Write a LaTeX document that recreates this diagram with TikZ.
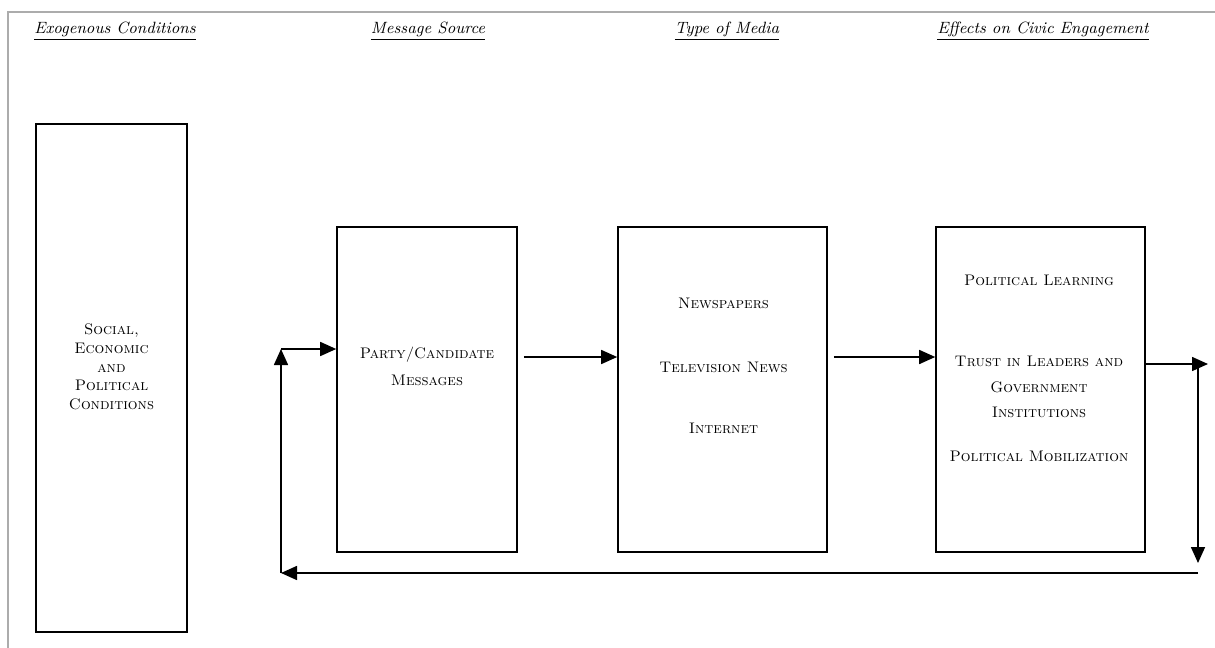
\documentclass[tikz,border=0pt]{standalone}
\usepackage{fontspec}
\usetikzlibrary{arrows.meta,calc}
\tikzset{
  box/.style={draw, line width=0.9pt, inner sep=0pt},
  lbl/.style={align=center, font=\fontsize{8.7}{10.4}\selectfont\scshape},
  head/.style={font=\fontsize{9.3}{11}\selectfont\itshape}
}
\begin{document}
\begin{tikzpicture}[line join=miter, >={Triangle[length=3.2mm,width=2.8mm]}]
            \useasboundingbox (0,0) rectangle (24.3,-12.96);
            \draw[gray!65, line width=1.3pt] (0.16,-12.96) -- (0.16,-0.24) -- (24.3,-0.24);
            \node[head] (h1) at (2.30,-0.62) {\underline{Exogenous Conditions}};
            \node[head] (h2) at (8.56,-0.62) {\underline{Message Source}};
            \node[head] (h3) at (14.54,-0.62) {\underline{Type of Media}};
            \node[head] (h4) at (20.86,-0.62) {\underline{Effects on Civic Engagement}};
            \node[box, minimum width=3.02cm, minimum height=10.16cm] (exo) at (2.23,-7.56) {};
            \node[box, minimum width=3.6cm, minimum height=6.5cm] (party) at (8.54,-7.79) {};
            \node[box, minimum width=4.18cm, minimum height=6.5cm] (media) at (14.45,-7.79) {};
            \node[box, minimum width=4.18cm, minimum height=6.5cm] (effects) at (20.81,-7.79) {};
            \node[lbl, font=\fontsize{8.7}{10.6}\selectfont\scshape] (exotxt) at (2.23,-7.34) {Social,\\Economic\\and\\Political\\Conditions};
            \node[lbl, font=\fontsize{8.7}{15.3}\selectfont\scshape] (partytxt) at (8.54,-7.33) {Party/Candidate\\Messages};
            \node[lbl] (news) at (14.47,-6.06) {Newspapers};
            \node[lbl] (tv) at (14.47,-7.34) {Television News};
            \node[lbl] (net) at (14.47,-8.56) {Internet};
            \node[lbl] (learn) at (20.78,-5.60) {Political Learning};
            \node[lbl, font=\fontsize{8.7}{14.5}\selectfont\scshape] (trust) at (20.78,-7.74) {Trust in Leaders and\\Government\\Institutions};
            \node[lbl] (mob) at (20.78,-9.12) {Political Mobilization};
            \coordinate (fb) at (5.62,-6.98);
            \coordinate (bl) at (5.62,-11.46);
            \coordinate (br) at (23.96,-11.46);
            \coordinate (turn) at (23.96,-7.28);
            \coordinate (down) at (23.96,-11.26);
            \draw[line width=0.9pt, ->] (fb) -- (fb -| party.west);
            \draw[line width=0.9pt, ->] ([xshift=1.2mm,yshift=6.5mm]party.east) -- ([yshift=6.5mm]media.west);
            \draw[line width=0.9pt, ->] ([xshift=1.2mm,yshift=6.5mm]media.east) -- ([yshift=6.5mm]effects.west);
            \draw[line width=0.9pt, ->] (turn -| effects.east) -- ($(turn)+(0.2,0)$);
            \draw[line width=0.9pt, ->] (turn) -- (down);
            \draw[line width=0.9pt, ->] (br) -- (bl);
            \draw[line width=0.9pt, ->] (bl) -- (fb);
\end{tikzpicture}
\end{document}
